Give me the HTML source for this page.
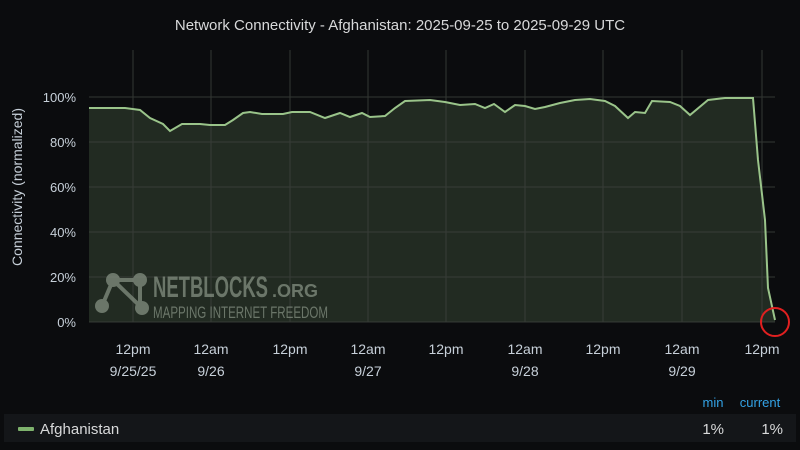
<!DOCTYPE html>
<html><head><style>
body{margin:0;background:#0b0c0e;width:800px;height:450px;overflow:hidden;font-family:"Liberation Sans",sans-serif;}
</style></head><body>
<svg width="800" height="450" xmlns="http://www.w3.org/2000/svg" style="position:absolute;left:0;top:0">
<rect width="800" height="450" fill="#0b0c0e"/>
<text x="400" y="30" fill="#d8d9da" font-size="15" text-anchor="middle" font-family="Liberation Sans">Network Connectivity - Afghanistan: 2025-09-25 to 2025-09-29 UTC</text>
<path d="M89,108 L125,108 L140,110 L150,118 L163,124 L170,131 L182,124 L200,124 L210,125 L225,125 L233,120 L243,113 L250,112 L262,114 L283,114 L292,112 L310,112 L325,118 L340,113 L350,117 L362,113 L370,117 L385,116 L395,108 L405,101 L430,100 L445,102 L460,105 L475,104 L485,108 L494,104 L505,112 L515,105 L525,106 L535,109 L545,107 L560,103 L575,100 L590,99 L605,101 L615,106 L628,118 L635,112 L645,113 L652,101 L670,102 L680,106 L690,115 L708,100 L725,98 L753,98 L758,160 L765,220 L768,288 L775,320 L775,322 L89,322 Z" fill="#222b22"/>
<g stroke="#3e423e" stroke-width="1" opacity="0.8">
<line x1="89" y1="97" x2="775" y2="97"/><line x1="89" y1="142" x2="775" y2="142"/><line x1="89" y1="187" x2="775" y2="187"/><line x1="89" y1="232" x2="775" y2="232"/><line x1="89" y1="277" x2="775" y2="277"/><line x1="89" y1="322" x2="775" y2="322"/>
<line x1="133" y1="50" x2="133" y2="322"/><line x1="211" y1="50" x2="211" y2="322"/><line x1="290" y1="50" x2="290" y2="322"/><line x1="368" y1="50" x2="368" y2="322"/><line x1="446" y1="50" x2="446" y2="322"/><line x1="525" y1="50" x2="525" y2="322"/><line x1="603" y1="50" x2="603" y2="322"/><line x1="682" y1="50" x2="682" y2="322"/><line x1="762" y1="50" x2="762" y2="322"/>
</g>
<path d="M89,108 L125,108 L140,110 L150,118 L163,124 L170,131 L182,124 L200,124 L210,125 L225,125 L233,120 L243,113 L250,112 L262,114 L283,114 L292,112 L310,112 L325,118 L340,113 L350,117 L362,113 L370,117 L385,116 L395,108 L405,101 L430,100 L445,102 L460,105 L475,104 L485,108 L494,104 L505,112 L515,105 L525,106 L535,109 L545,107 L560,103 L575,100 L590,99 L605,101 L615,106 L628,118 L635,112 L645,113 L652,101 L670,102 L680,106 L690,115 L708,100 L725,98 L753,98 L758,160 L765,220 L768,288 L775,320" fill="none" stroke="#9ac48a" stroke-width="2"/>
<circle cx="775" cy="322" r="14" fill="none" stroke="#e02020" stroke-width="2"/>
<g fill="#c7d0d9" font-size="13" text-anchor="end">
<text x="76" y="102">100%</text><text x="76" y="147">80%</text><text x="76" y="192">60%</text><text x="76" y="237">40%</text><text x="76" y="282">20%</text><text x="76" y="327">0%</text>
</g>
<text transform="translate(22,187) rotate(-90)" fill="#c7d0d9" font-size="14" text-anchor="middle">Connectivity (normalized)</text>
<g fill="#c7d0d9" font-size="14" text-anchor="middle">
<text x="133" y="354">12pm</text><text x="133" y="376">9/25/25</text>
<text x="211" y="354">12am</text><text x="211" y="376">9/26</text>
<text x="290" y="354">12pm</text>
<text x="368" y="354">12am</text><text x="368" y="376">9/27</text>
<text x="446" y="354">12pm</text>
<text x="525" y="354">12am</text><text x="525" y="376">9/28</text>
<text x="603" y="354">12pm</text>
<text x="682" y="354">12am</text><text x="682" y="376">9/29</text>
<text x="762" y="354">12pm</text>
</g>
<g opacity="0.7" fill="#8a9688">
<line x1="113" y1="280" x2="102" y2="306" stroke="#8a9688" stroke-width="4"/><line x1="113" y1="280" x2="142" y2="308" stroke="#8a9688" stroke-width="4"/><line x1="140" y1="280" x2="140" y2="308" stroke="#8a9688" stroke-width="4"/><line x1="113" y1="280" x2="140" y2="280" stroke="#8a9688" stroke-width="4"/>
<circle cx="113" cy="280" r="7"/><circle cx="140" cy="280" r="7"/><circle cx="102" cy="306" r="7"/><circle cx="142" cy="308" r="7"/>
<text x="153" y="297" font-size="30" font-weight="bold" textLength="115" lengthAdjust="spacingAndGlyphs">NETBLOCKS</text>
<text x="272" y="297" font-size="18" font-weight="bold">.ORG</text>
<text x="153" y="318" font-size="17" textLength="175" lengthAdjust="spacingAndGlyphs">MAPPING INTERNET FREEDOM</text>
</g>
<text x="713" y="407" fill="#33a2e5" font-size="13" text-anchor="middle">min</text>
<text x="760" y="407" fill="#33a2e5" font-size="13" text-anchor="middle">current</text>
<rect x="4" y="414" width="792" height="28" fill="#141619"/>
<rect x="18" y="427" width="16" height="4" rx="1" fill="#7eb26d"/>
<text x="40" y="434" fill="#d8d9da" font-size="15">Afghanistan</text>
<text x="724" y="434" fill="#d8d9da" font-size="15" text-anchor="end">1%</text>
<text x="783" y="434" fill="#d8d9da" font-size="15" text-anchor="end">1%</text>
</svg>
</body></html>
